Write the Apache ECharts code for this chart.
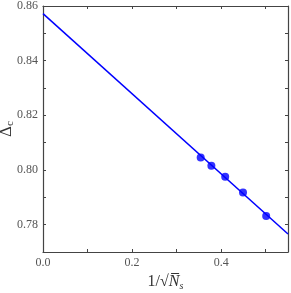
<!DOCTYPE html>
<html><head><meta charset="utf-8">
<script src="https://cdn.jsdelivr.net/npm/echarts@6/dist/echarts.min.js"></script>
<style>html,body{margin:0;padding:0;background:#fff}#c{width:291px;height:293px}</style>
</head><body><div id="c"></div>
<script>
const xPoints = [0.354, 0.378, 0.409, 0.449, 0.501];
const yPoints = [0.8046, 0.8016, 0.7975, 0.7918, 0.7832];
const fitX = [0, 0.55];
const fitY = [0.8572, 0.7766];
const xLabels = [0.0, 0.2, 0.4];
const yLabels = [0.78, 0.80, 0.82, 0.84, 0.86];

const font = 'Liberation Serif';
const axisCol = '#444';
const chart = echarts.init(document.getElementById('c'), null, {renderer: 'canvas'});
const baseX = {
  type: 'value', min: 0, max: 0.55, interval: 0.1,
  axisLine: {show: true, onZero: false, lineStyle: {color: axisCol, width: 1.2}},
  axisTick: {show: true, inside: true, length: 3, lineStyle: {color: axisCol}},
  splitLine: {show: false}
};
const baseY = {
  type: 'value', min: 0.77, max: 0.86, interval: 0.01,
  axisLine: {show: true, onZero: false, lineStyle: {color: axisCol, width: 1.2}},
  axisTick: {show: true, inside: true, length: 3, lineStyle: {color: axisCol}},
  splitLine: {show: false}
};
chart.setOption({
  animation: false,
  grid: {left: 43, top: 6, right: 3, bottom: 41, containLabel: false, outerBoundsMode: 'none'},
  xAxis: [
    Object.assign({}, baseX, {
      position: 'bottom', nameMoveOverlap: false,
      axisLabel: {show: true, margin: 5, color: '#555', fontFamily: font, fontSize: 12,
        formatter: v => xLabels.some(l => Math.abs(l - v) < 1e-6) ? v.toFixed(1) : ''},
      name: '{a|1/√}{n|N̅}{s|s}', nameLocation: 'middle', nameGap: 21,
      nameTextStyle: {rich: {
        a: {fontFamily: font, fontSize: 16, color: '#333'},
        n: {fontFamily: font, fontSize: 16, color: '#333', fontStyle: 'italic'},
        s: {fontFamily: font, fontSize: 10, color: '#333', fontStyle: 'italic', padding: [8, 0, 0, 0]}
      }}
    }),
    Object.assign({}, baseX, {position: 'top', axisLabel: {show: false}})
  ],
  yAxis: [
    Object.assign({}, baseY, {
      position: 'left', nameMoveOverlap: false,
      axisLabel: {show: true, margin: 5, color: '#555', fontFamily: font, fontSize: 12,
        formatter: v => yLabels.some(l => Math.abs(l - v) < 1e-6) ? v.toFixed(2) : ''},
      name: '{a|Δ}{s|c}', nameLocation: 'middle', nameGap: 27, nameRotate: 90,
      nameTextStyle: {rich: {
        a: {fontFamily: font, fontSize: 17, color: '#333'},
        s: {fontFamily: font, fontSize: 11, color: '#333', padding: [8, 0, 0, 0]}
      }}
    }),
    Object.assign({}, baseY, {position: 'right', axisLabel: {show: false}})
  ],
  series: [
    {type: 'line', data: fitX.map((x, i) => [x, fitY[i]]), showSymbol: false, symbol: 'none',
     lineStyle: {color: '#0000ff', width: 1.5}, z: 2},
    {type: 'scatter', data: xPoints.map((x, i) => [x, yPoints[i]]), symbol: 'circle', symbolSize: 8,
     itemStyle: {color: '#0000ff'}, z: 3}
  ]
});
</script></body></html>
